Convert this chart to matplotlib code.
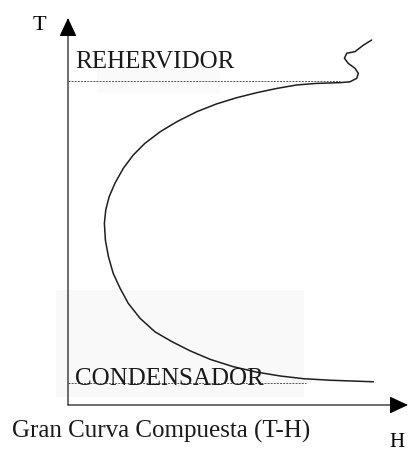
import matplotlib
matplotlib.use("Agg")
import matplotlib.pyplot as plt
from matplotlib.patches import Rectangle

# Gran curva compuesta, H (horizontal) vs T (vertical), both on a 0-100 scale
curve_H = [89.3, 86.9, 84.4, 82.0, 81.3, 82.4, 84.4, 85.4, 84.9, 82.9,
           80.0, 73.1, 67.3, 61.4, 55.5, 49.6, 43.7, 37.9, 32.0, 27.1,
           22.6, 19.2, 16.3, 13.8, 12.1, 11.1, 10.7, 11.0, 11.9, 13.3,
           15.3, 17.7, 21.2, 25.6, 30.5, 35.9, 41.8, 48.6, 55.5, 62.4,
           69.2, 77.1, 89.8]
curve_T = [94.3, 93.0, 91.3, 90.9, 89.6, 88.3, 87.0, 85.7, 84.4, 83.5,
           83.3, 83.1, 82.7, 81.8, 80.7, 79.4, 77.8, 75.8, 73.2, 70.6,
           67.6, 64.6, 61.2, 57.3, 53.8, 50.4, 46.9, 42.6, 38.3, 34.0,
           30.2, 26.3, 22.4, 18.9, 16.4, 14.0, 11.8, 9.9, 8.5, 7.5,
           6.8, 6.4, 6.0]

# utility levels: reboiler on top, condenser at the bottom
level_names = ["REHERVIDOR", "CONDENSADOR"]
level_T = [83.7, 5.8]
level_H_end = [80.0, 70.0]
label_T = [87.1, 5.2]

title = "Gran Curva Compuesta (T-H)"

W, H = 408, 453
fig = plt.figure(figsize=(W / 100, H / 100), dpi=100)
ax = fig.add_axes([68 / W, 48 / H, 340 / W, 387 / H])
ax.set_xlim(0, 100)
ax.set_ylim(0, 100)
ax.axis("off")

serif = ["Liberation Serif", "DejaVu Serif"]

# faint shading behind the labels
ax.add_patch(Rectangle((-3.5, 2.1), 72.9, 27.6, facecolor="#f9f9f9",
                       edgecolor="none", zorder=0, clip_on=False))
ax.add_patch(Rectangle((8.5, 80.6), 36.2, 6.5, facecolor="#fafafa",
                       edgecolor="none", zorder=0, clip_on=False))

# axes with arrow heads
arrow = dict(arrowstyle="-|>,head_length=0.58,head_width=0.27",
             color="black", lw=0.8, shrinkA=0, shrinkB=0, mutation_scale=20)
ax.annotate("", xy=(0, 1), xytext=(0, 0), xycoords="axes fraction",
            arrowprops=arrow)
ax.annotate("", xy=(1, 0), xytext=(0, 0), xycoords="axes fraction",
            arrowprops=arrow)

for name, t, h_end, lt in zip(level_names, level_T, level_H_end, label_T):
    ax.plot([0, h_end], [t, t], color="#555555", lw=0.7,
            linestyle=(0, (2, 1.2)), zorder=1)
    ax.text(2.0, lt, name, family=serif, fontsize=18, color="#1a1a1a",
            va="baseline", ha="left", zorder=3)

ax.plot(curve_H, curve_T, color="#1e1e1e", lw=1.1, zorder=2,
        solid_joinstyle="round", solid_capstyle="round", clip_on=False)

fig.text(33 / W, (H - 30) / H, "T", family=serif, fontsize=16,
         va="baseline", ha="left")
fig.text(389 / W, (H - 447) / H, "H", family=serif, fontsize=15,
         va="baseline", ha="left")
fig.text(12 / W, (H - 438) / H, title, family=serif, fontsize=18,
         va="baseline", ha="left", color="#1a1a1a")

fig.savefig("out.png", dpi=100)
